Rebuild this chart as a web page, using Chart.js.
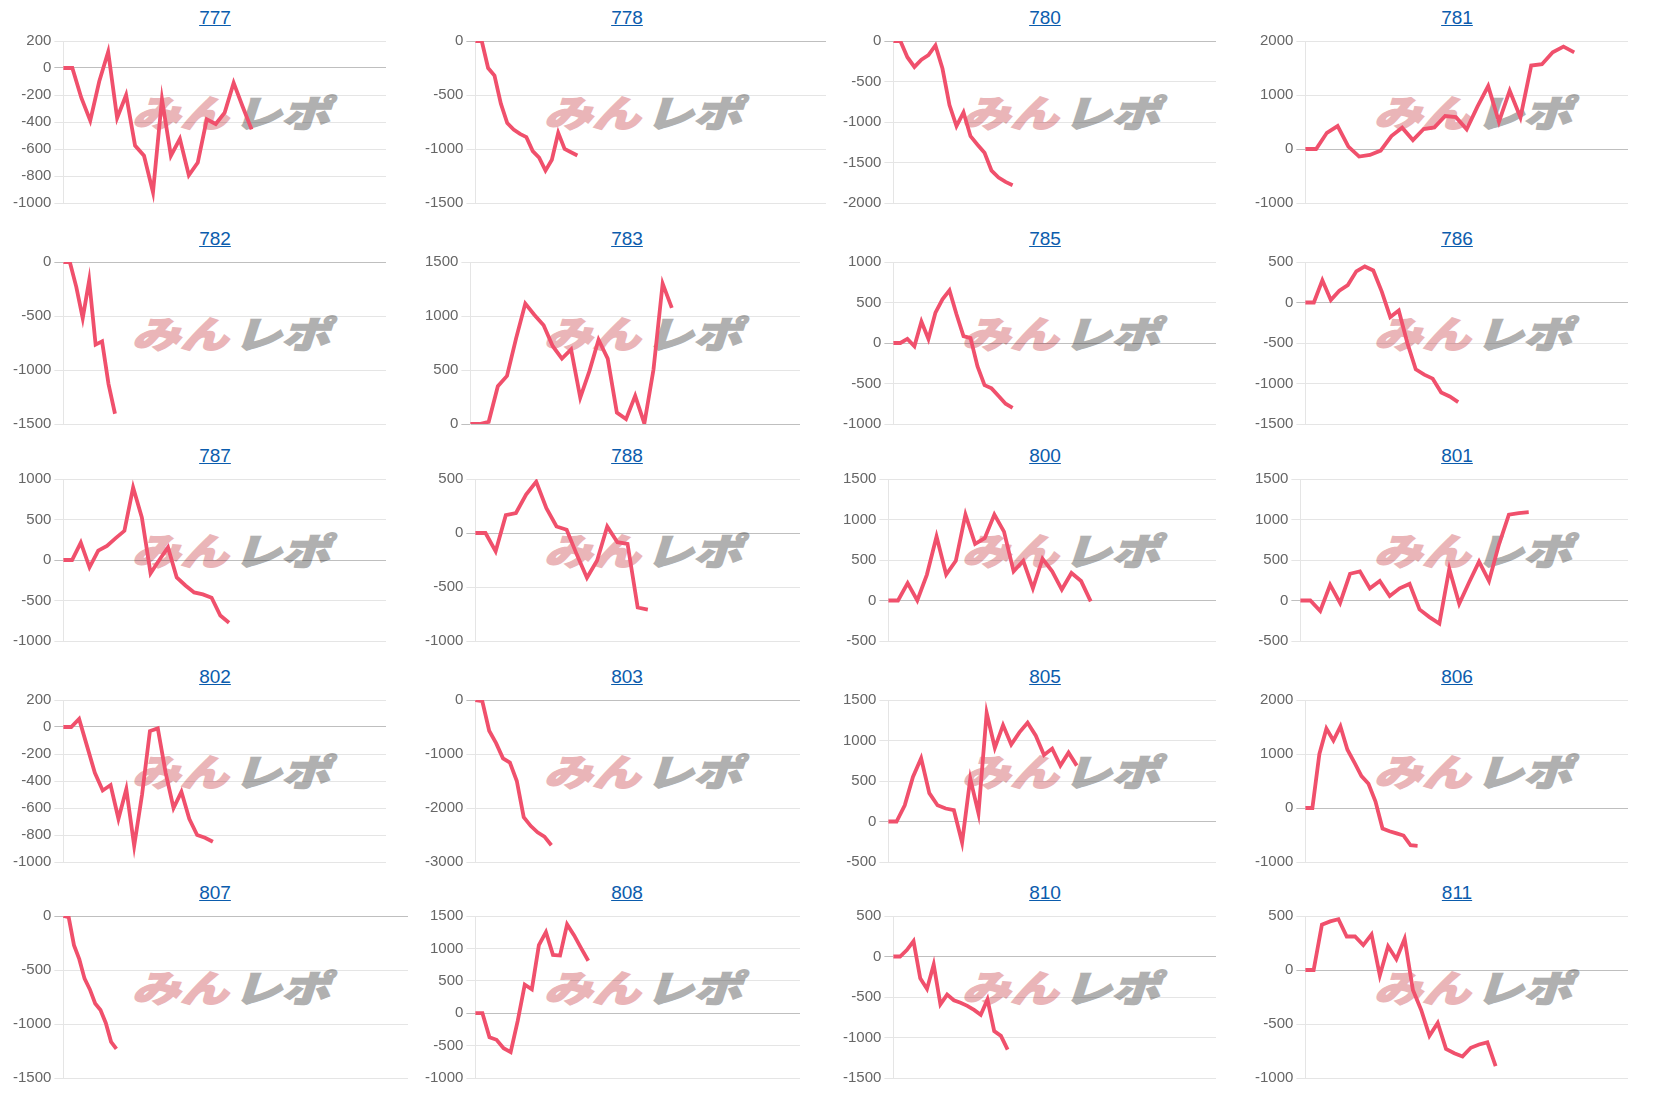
<!DOCTYPE html>
<html>
<head>
<meta charset="utf-8">
<script src="https://cdn.jsdelivr.net/npm/chart.js@4.4.0/dist/chart.umd.min.js"></script>
<style>
body { margin: 0; background: #fff; font-family: "Liberation Sans", Arial, sans-serif; }
#board { position: relative; width: 1660px; height: 1095px; overflow: hidden; }
.ttl { position: absolute; width: 120px; text-align: center; font-size: 19px; line-height: 22px; }
.ttl a { color: #0b5cad; text-decoration: underline; }
.mark { position: absolute; width: 200px; height: 38px; line-height: 38px; white-space: nowrap;
        font-family: "Noto Sans CJK JP", sans-serif; font-weight: 900; font-size: 37px;
        transform: skewX(-18deg) scaleX(1.3); transform-origin: 0 50%; letter-spacing: 0px; z-index: 0; }
.mark .p { color: #eab5b8; -webkit-text-stroke: 1.5px #eab5b8; }
.mark .g { color: #b0b0b0; -webkit-text-stroke: 1.5px #b0b0b0; margin-left: 4px; }
canvas { position: absolute; z-index: 1; }
</style>
</head>
<body>
<div id="board"></div>
<script>
var titles = ["777", "778", "780", "781", "782", "783", "785", "786", "787", "788",
              "800", "801", "802", "803", "805", "806", "807", "808", "810", "811"];

// number of x categories (days) on each chart
var dayCounts = [37, 56, 47, 31, 51, 37, 47, 39, 38, 33,
                 35, 34, 42, 48, 41, 47, 66, 47, 49, 40];

var yMin  = [-1000, -1500, -2000, -1000, -1500, 0, -1000, -1500, -1000, -1000,
             -500, -500, -1000, -3000, -500, -1000, -1500, -1000, -1500, -1000];
var yMax  = [200, 0, 0, 2000, 0, 1500, 1000, 500, 1000, 500,
             1500, 1500, 200, 0, 1500, 2000, 0, 1500, 500, 500];
var yStep = [200, 500, 500, 1000, 500, 500, 500, 500, 500, 500,
             500, 500, 200, 1000, 500, 1000, 500, 500, 500, 500];

var v777 = [0, 0, -220, -390, -100, 120, -370, -200, -575, -650, -920, -230, -650, -525, -795, -700, -380, -415, -330, -110, -285, -455];
var v778 = [0, 0, -250, -320, -580, -760, -820, -860, -890, -1020, -1080, -1200, -1100, -850, -1000, -1030, -1060];
var v780 = [0, 0, -200, -320, -230, -175, -55, -340, -790, -1050, -880, -1175, -1280, -1380, -1600, -1685, -1740, -1780];
var v781 = [0, 0, 300, 425, 45, -140, -110, -30, 240, 395, 165, 370, 400, 610, 590, 365, 785, 1165, 505, 1080, 585, 1545, 1570, 1790, 1895, 1790];
var v782 = [0, 0, -230, -520, -170, -765, -735, -1130, -1405];
var v783 = [0, 0, 20, 350, 445, 795, 1115, 1010, 915, 720, 605, 690, 245, 490, 780, 605, 105, 45, 260, 5, 505, 1300, 1075];
var v785 = [0, 0, 50, -40, 265, 50, 375, 540, 650, 355, 85, 60, -290, -520, -560, -655, -750, -800];
var v786 = [0, 0, 275, 30, 145, 215, 385, 445, 395, 135, -180, -100, -495, -825, -890, -940, -1110, -1160, -1230];
var v787 = [0, 0, 215, -90, 115, 175, 270, 360, 895, 525, -165, 0, 155, -215, -315, -400, -425, -465, -685, -775];
var v788 = [0, 0, -170, 165, 185, 355, 475, 230, 60, 30, -200, -415, -255, 60, -85, -100, -690, -710];
var v800 = [0, 0, 215, 0, 320, 790, 320, 490, 1060, 700, 770, 1060, 850, 360, 490, 150, 515, 360, 135, 340, 240, -10];
var v801 = [0, 0, -130, 195, -30, 330, 360, 150, 240, 55, 150, 205, -110, -205, -285, 390, -40, 225, 480, 240, 690, 1060, 1080, 1090];
var v802 = [0, 0, 60, -140, -340, -470, -430, -680, -460, -880, -500, -30, -10, -340, -600, -480, -680, -800, -820, -850];
var v803 = [0, -20, -570, -800, -1080, -1160, -1500, -2170, -2330, -2450, -2530, -2690];
var v805 = [0, 0, 200, 550, 780, 350, 200, 160, 140, -260, 530, 100, 1340, 910, 1190, 950, 1100, 1220, 1060, 820, 900, 690, 850, 690];
var v806 = [0, 0, 1000, 1470, 1250, 1510, 1080, 840, 590, 450, 120, -380, -430, -470, -510, -690, -700];
var v807 = [0, -10, -270, -400, -580, -680, -810, -870, -990, -1165, -1230];
var v808 = [0, 0, -370, -410, -540, -600, -120, 440, 370, 1050, 1250, 900, 890, 1370, 1200, 1000, 810];
var v810 = [0, 0, 80, 190, -270, -400, -100, -590, -470, -540, -570, -610, -660, -720, -530, -920, -980, -1150];
var v811 = [0, 0, 420, 450, 470, 310, 310, 230, 330, -50, 220, 100, 290, -185, -370, -610, -490, -730, -770, -800, -720, -690, -670, -890];

var series = [v777, v778, v780, v781, v782, v783, v785, v786, v787, v788,
              v800, v801, v802, v803, v805, v806, v807, v808, v810, v811];

// layout
var colX = [0, 412, 830, 1242];
var plotTop = [41, 262, 479, 700, 916];
var plotH = 162;
var plotRight = [386, 388, 386, 386];
var wideRight = { "778": 826, "807": 408 };

var board = document.getElementById("board");

function makeChart(cv, i) {
    var labels = [];
    for (var d = 1; d <= dayCounts[i]; d++) labels.push(String(d));
    return new Chart(cv, {
        type: "line",
        data: {
            labels: labels,
            datasets: [{
                data: series[i],
                borderColor: "rgb(240, 80, 108)",
                borderWidth: 3.8,
                pointRadius: 0,
                tension: 0,
                fill: false
            }]
        },
        options: {
            responsive: false,
            animation: false,
            layout: { padding: 0 },
            plugins: { legend: { display: false }, tooltip: { enabled: false } },
            scales: {
                x: { display: false },
                y: {
                    min: yMin[i],
                    max: yMax[i],
                    ticks: {
                        stepSize: yStep[i], color: "#666", padding: 3,
                        font: { family: "Liberation Sans", size: 15 },
                        callback: function (v) { return String(v); }
                    },
                    grid: {
                        tickLength: 9,
                        color: function (c) {
                            return c.tick && c.tick.value === 0 ? "rgba(0,0,0,0.25)" : "rgba(0,0,0,0.1)";
                        }
                    },
                    border: { color: "rgba(0,0,0,0.1)" }
                }
            }
        }
    });
}

function drawPanel(i) {
    var col = i % 4, row = Math.floor(i / 4);
    var x0 = colX[col], y0 = plotTop[row];

    var t = document.createElement("div");
    t.className = "ttl";
    t.style.left = (x0 + 215 - 60) + "px";
    t.style.top = (y0 - 34) + "px";
    t.innerHTML = '<a href="#">' + titles[i] + '</a>';
    board.appendChild(t);

    var m = document.createElement("div");
    m.className = "mark";
    m.style.left = (x0 + 137) + "px";
    m.style.top = (y0 + 51) + "px";
    m.innerHTML = '<span class="p">みん</span><span class="g">レポ</span>';
    board.appendChild(m);

    var cv = document.createElement("canvas");
    var right = wideRight[titles[i]] || (x0 + plotRight[col]);
    cv.width = right - (x0 + 10);
    cv.height = plotH + 18;
    cv.style.left = (x0 + 10) + "px";
    board.appendChild(cv);

    var chart = makeChart(cv, i);
    var ca = chart.chartArea;
    var diff = plotH - Math.round(ca.bottom - ca.top);
    if (diff !== 0) {
        chart.destroy();
        cv.height = cv.height + diff;
        chart = makeChart(cv, i);
        ca = chart.chartArea;
    }
    cv.style.top = (y0 - ca.top) + "px";
}

for (var i = 0; i < titles.length; i++) drawPanel(i);
</script>
</body>
</html>
